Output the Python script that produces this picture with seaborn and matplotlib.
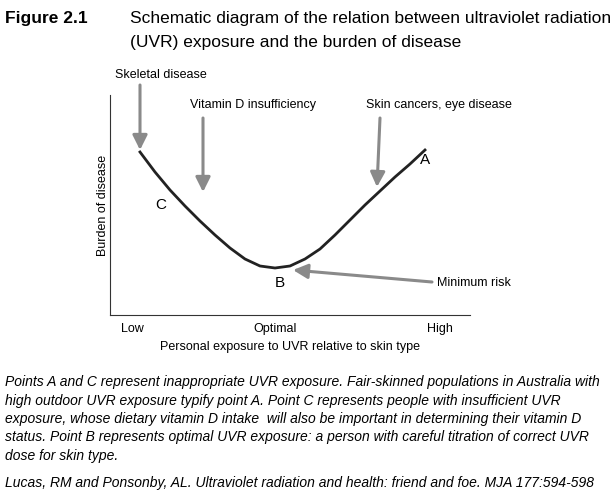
import matplotlib
matplotlib.use("Agg")
import matplotlib.pyplot as plt
import seaborn as sns
import pandas as pd

exposure = [30, 45, 60, 75, 90, 105, 120, 135, 150, 165, 180, 195, 210, 225, 240, 255, 270, 285, 300, 315]
burden = [163, 143, 125, 109, 94, 80, 67, 56, 49, 47, 49, 56, 66, 80, 95, 110, 124, 138, 151, 165]
tick_labels = ["Low", "Optimal", "High"]
tick_pos = [22, 165, 330]

plt.rcParams["font.family"] = "Liberation Sans"
W, H = 613, 500
fig = plt.figure(figsize=(W/100, H/100), dpi=100)
def fp(x, y):
    return (x / W, 1 - y / H)

ax = fig.add_axes([110/W, 1-315/H, 360/W, 220/H])
df = pd.DataFrame({"x": exposure, "y": burden})
sns.lineplot(data=df, x="x", y="y", ax=ax, color="#222222", lw=2)
ax.set_xlim(0, 360); ax.set_ylim(0, 220)
for s in ["top", "right"]:
    ax.spines[s].set_visible(False)
ax.spines["left"].set_color("#333"); ax.spines["bottom"].set_color("#333")
ax.set_xticks(tick_pos); ax.set_xticklabels(tick_labels, fontsize=9)
ax.tick_params(length=0, pad=6)
ax.set_yticks([])
ax.set_xlabel("Personal exposure to UVR relative to skin type", fontsize=9, labelpad=4)
ax.set_ylabel("Burden of disease", fontsize=9, labelpad=1)

tf = fig.transFigure
ap = dict(arrowstyle="-|>", color="#8a8a8a", lw=2.2, mutation_scale=22, shrinkA=0, shrinkB=0)
def arrow(x0, y0, x1, y1):
    fig.add_artist(matplotlib.patches.FancyArrowPatch(fp(x0, y0), fp(x1, y1), transform=tf, **ap))
arrow(140, 85, 140, 150)
arrow(203, 118, 203, 192)
arrow(380, 118, 377, 187)
arrow(432, 282, 293, 270)

def t(x, y, s, **kw):
    fig.text(*fp(x, y), s, transform=tf, **kw)
t(115, 75, "Skeletal disease", fontsize=9, va="center")
t(190, 105, "Vitamin D insufficiency", fontsize=9, va="center")
t(366, 105, "Skin cancers, eye disease", fontsize=9, va="center")
t(437, 283, "Minimum risk", fontsize=9, va="center")
t(420, 160, "A", fontsize=11, va="center")
t(275, 283, "B", fontsize=11, va="center")
t(155, 205, "C", fontsize=11, va="center")

t(5, 18, "Figure 2.1", fontsize=12.5, fontweight="bold", va="center")
t(130, 18, "Schematic diagram of the relation between ultraviolet radiation", fontsize=12.5, va="center")
t(130, 43, "(UVR) exposure and the burden of disease", fontsize=12.5, va="center")

cap = ["Points A and C represent inappropriate UVR exposure. Fair-skinned populations in Australia with",
       "high outdoor UVR exposure typify point A. Point C represents people with insufficient UVR",
       "exposure, whose dietary vitamin D intake  will also be important in determining their vitamin D",
       "status. Point B represents optimal UVR exposure: a person with careful titration of correct UVR",
       "dose for skin type."]
for i, line in enumerate(cap):
    t(5, 382 + i*18.5, line, fontsize=10, style="italic", va="center")
t(5, 483, "Lucas, RM and Ponsonby, AL. Ultraviolet radiation and health: friend and foe. MJA 177:594-598",
  fontsize=10, style="italic", va="center")
fig.savefig("out.png", dpi=100)
